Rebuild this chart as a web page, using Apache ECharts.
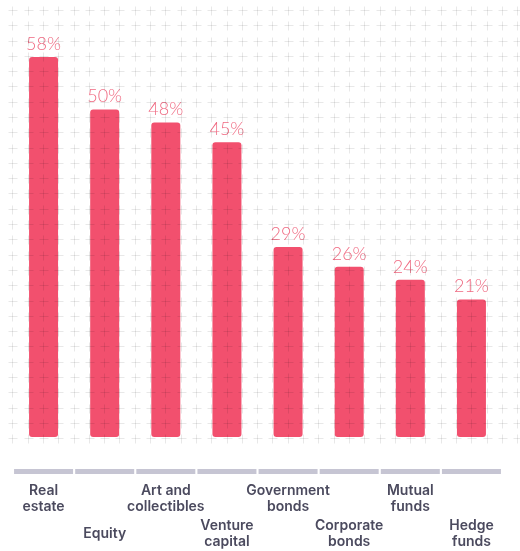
<!DOCTYPE html>
<html>
<head>
<meta charset="utf-8">
<script src="https://cdn.jsdelivr.net/npm/echarts@6/dist/echarts.min.js"></script>
<style>
  html, body { margin: 0; padding: 0; background: #ffffff; }
  #chart { width: 520px; height: 551px; }
</style>
</head>
<body>
<div id="chart"></div>
<script>
// Asset classes and the share of respondents for each
const categories = [
  'Real\nestate', 'Equity', 'Art and\ncollectibles', 'Venture\ncapital',
  'Government\nbonds', 'Corporate\nbonds', 'Mutual\nfunds', 'Hedge\nfunds'
];
const shares = [58, 50, 48, 45, 29, 26, 24, 21];
const stripValues = categories.map(() => 1);

const barColor = '#f2506e';
const valueLabelColor = '#f06a82';
const categoryColor = '#4b4a5e';

// Decorative background of small plus marks, laid over the plot
function plusPattern() {
  const items = [];
  const x0 = 12.3, dx = 15.3, cols = 34;
  const y0 = 10, dy = 15.29, rows = 29;
  const arm = 4;
  const stroke = { stroke: 'rgba(0,0,0,0.09)', lineWidth: 1 };
  for (let r = 0; r < rows; r++) {
    for (let c = 0; c < cols; c++) {
      const cx = Math.round(x0 + c * dx) + 0.5;
      const cy = Math.round(y0 + r * dy) + 0.5;
      items.push({ type: 'line', silent: true, z: 100,
        shape: { x1: cx - arm, y1: cy, x2: cx + arm + 1, y2: cy }, style: stroke });
      items.push({ type: 'line', silent: true, z: 100,
        shape: { x1: cx, y1: cy - arm, x2: cx, y2: cy + arm + 1 }, style: stroke });
    }
  }
  return items;
}

const chart = echarts.init(document.getElementById('chart'), null, { renderer: 'canvas' });

const labelFont = {
  fontFamily: 'Inter',
  fontWeight: 600,
  fontSize: 14,
  lineHeight: 16,
  color: categoryColor,
  align: 'center',
  verticalAlign: 'middle'
};

chart.setOption({
  animation: false,
  backgroundColor: '#ffffff',
  graphic: plusPattern(),
  grid: [
    { left: 13, right: 18, top: 44, bottom: 114 },
    { left: 13, right: 18, top: 469, height: 5 }
  ],
  xAxis: [
    {
      type: 'category', gridIndex: 0, data: categories,
      axisLine: { show: false }, axisTick: { show: false }, splitLine: { show: false },
      axisLabel: Object.assign({ margin: 62, interval: (i) => i % 2 === 0 }, labelFont)
    },
    {
      type: 'category', gridIndex: 1, data: categories,
      axisLine: { show: false }, axisTick: { show: false }, splitLine: { show: false },
      axisLabel: Object.assign({ margin: 59.5, interval: (i) => i % 2 === 1 }, labelFont)
    }
  ],
  yAxis: [
    { type: 'value', gridIndex: 0, min: 0, max: 60, show: false },
    { type: 'value', gridIndex: 1, min: 0, max: 1, show: false }
  ],
  series: [
    {
      type: 'bar', xAxisIndex: 0, yAxisIndex: 0,
      data: shares,
      barWidth: 29,
      itemStyle: { color: barColor, borderRadius: 3 },
      label: {
        show: true, position: 'top', distance: 4,
        formatter: '{c}%',
        fontFamily: 'Lato', fontWeight: 300, fontSize: 18,
        color: valueLabelColor
      },
      z: 2
    },
    {
      type: 'bar', xAxisIndex: 1, yAxisIndex: 1,
      data: stripValues,
      barWidth: 59,
      itemStyle: { color: '#c6c5d3' },
      silent: true
    }
  ]
});
</script>
</body>
</html>
